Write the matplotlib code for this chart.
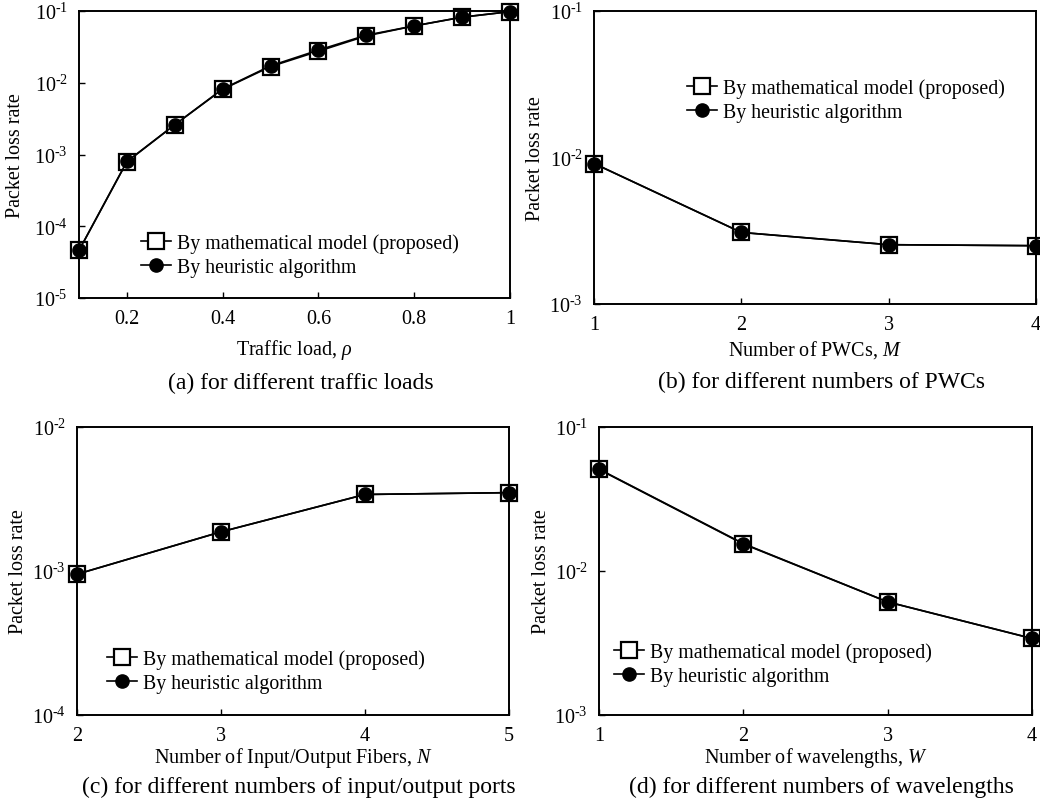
import matplotlib
matplotlib.use("Agg")
import matplotlib.pyplot as plt
from matplotlib.ticker import LogLocator, NullLocator, FuncFormatter
import numpy as np

plt.rcParams['font.family'] = ['Liberation Serif', 'DejaVu Serif']
plt.rcParams['mathtext.fontset'] = 'custom'
plt.rcParams['mathtext.rm'] = 'Liberation Serif'
plt.rcParams['mathtext.it'] = 'Liberation Serif:italic'

# (a) traffic load
load = [0.1, 0.2, 0.3, 0.4, 0.5, 0.6, 0.7, 0.8, 0.9, 1.0]
load_model = [4.6e-5, 7.9e-4, 2.6e-3, 8.1e-3, 1.68e-2, 2.75e-2, 4.5e-2, 6.2e-2, 8.2e-2, 9.8e-2]
load_heur = [4.6e-5, 8.0e-4, 2.6e-3, 8.2e-3, 1.72e-2, 2.85e-2, 4.6e-2, 6.2e-2, 8.2e-2, 9.8e-2]

# (b) number of PWCs
pwc = [1, 2, 3, 4]
pwc_model = [9.1e-3, 3.08e-3, 2.54e-3, 2.50e-3]
pwc_heur = [9.1e-3, 3.08e-3, 2.54e-3, 2.50e-3]

# (c) number of fibers
fibers = [2, 3, 4, 5]
fib_model = [9.5e-4, 1.87e-3, 3.4e-3, 3.5e-3]
fib_heur = [9.5e-4, 1.87e-3, 3.4e-3, 3.5e-3]

# (d) number of wavelengths
wl = [1, 2, 3, 4]
wl_model = [5.07e-2, 1.54e-2, 6.1e-3, 3.4e-3]
wl_heur = [5.1e-2, 1.55e-2, 6.1e-3, 3.4e-3]

lab_model = 'By mathematical model (proposed)'
lab_heur = 'By heuristic algorithm'

fig = plt.figure(figsize=(10.4, 8.03), dpi=100)
W, H = 1040, 803


def pow10(v, pos):
    e = int(round(np.log10(v)))
    return r'$10^{\text{%d}}$' % e


def make_axes(l, r, t, b):
    return fig.add_axes([l / W, 1 - b / H, (r - l) / W, (b - t) / H])


def draw(ax, x, ym, yh, xlim, ylim, xticks, xticklabels, xlabel, caption,
         leg_xy, xlabel_y, caption_y, ylabel_x):
    ax.plot(x, ym, '-', color='black', lw=1.2, marker='s', ms=12,
            mfc='white', mec='black', mew=1.6, label=lab_model, clip_on=False)
    ax.plot(x, yh, '-', color='black', lw=1.2, marker='o', ms=9.5,
            mfc='black', mec='black', label=lab_heur, clip_on=False)
    ax.set_yscale('log')
    ax.set_xlim(*xlim)
    ax.set_ylim(*ylim)
    ax.set_xticks(xticks)
    ax.set_xticklabels(xticklabels)
    ax.yaxis.set_major_locator(LogLocator(base=10, numticks=10))
    ax.yaxis.set_minor_locator(NullLocator())
    ax.yaxis.set_major_formatter(FuncFormatter(pow10))
    ax.tick_params(direction='in', length=4, width=1, labelsize=14.5, pad=8)
    for s in ax.spines.values():
        s.set_linewidth(1.4)
    ax.set_xlabel(xlabel, fontsize=14.5)
    ax.set_ylabel('Packet loss rate', fontsize=14.5)
    pos = ax.get_position()
    # place x label, y label, caption at figure positions
    ax.xaxis.set_label_coords((pos.x0 + pos.x1) / 2, 1 - xlabel_y / H,
                              transform=fig.transFigure)
    ax.xaxis.label.set_va('center')
    ax.yaxis.set_label_coords(ylabel_x / W, (pos.y0 + pos.y1) / 2,
                              transform=fig.transFigure)
    ax.yaxis.label.set_va('center')
    fig.text((pos.x0 + pos.x1) / 2 + 6 / W, 1 - caption_y / H, caption,
             fontsize=17, ha='center', va='center')
    ax.legend(loc='center left', bbox_to_anchor=leg_xy, frameon=False,
              fontsize=14.3, handlelength=1.5, handletextpad=0.3,
              labelspacing=0.25, borderpad=0, borderaxespad=0)


ax_a = make_axes(79, 510, 12, 299)
draw(ax_a, load, load_model, load_heur, (0.1, 1.0), (1e-5, 1e-1),
     [0.2, 0.4, 0.6, 0.8, 1.0], ['0.2', '0.4', '0.6', '0.8', '1'],
     r'Traffic load, $\rho$', '(a) for different traffic loads',
     (0.145, 0.15), 350, 383, 16)

ax_b = make_axes(594, 1036, 12, 305)
draw(ax_b, pwc, pwc_model, pwc_heur, (1, 4), (1e-3, 1e-1),
     [1, 2, 3, 4], ['1', '2', '3', '4'],
     r'Number of PWCs, $\it{M}$', '(b) for different numbers of PWCs',
     (0.21, 0.695), 350, 382, 535)

ax_c = make_axes(77, 509, 428, 716)
draw(ax_c, fibers, fib_model, fib_heur, (2, 5), (1e-4, 1e-2),
     [2, 3, 4, 5], ['2', '3', '4', '5'],
     r'Number of Input/Output Fibers, $\it{N}$',
     '(c) for different numbers of input/output ports',
     (0.07, 0.153), 758, 787, 19)

ax_d = make_axes(599, 1032, 428, 716)
draw(ax_d, wl, wl_model, wl_heur, (1, 4), (1e-3, 1e-1),
     [1, 2, 3, 4], ['1', '2', '3', '4'],
     r'Number of wavelengths, $\it{W}$',
     '(d) for different numbers of wavelengths',
     (0.035, 0.177), 758, 787, 542)

fig.savefig('out.png', dpi=100)
